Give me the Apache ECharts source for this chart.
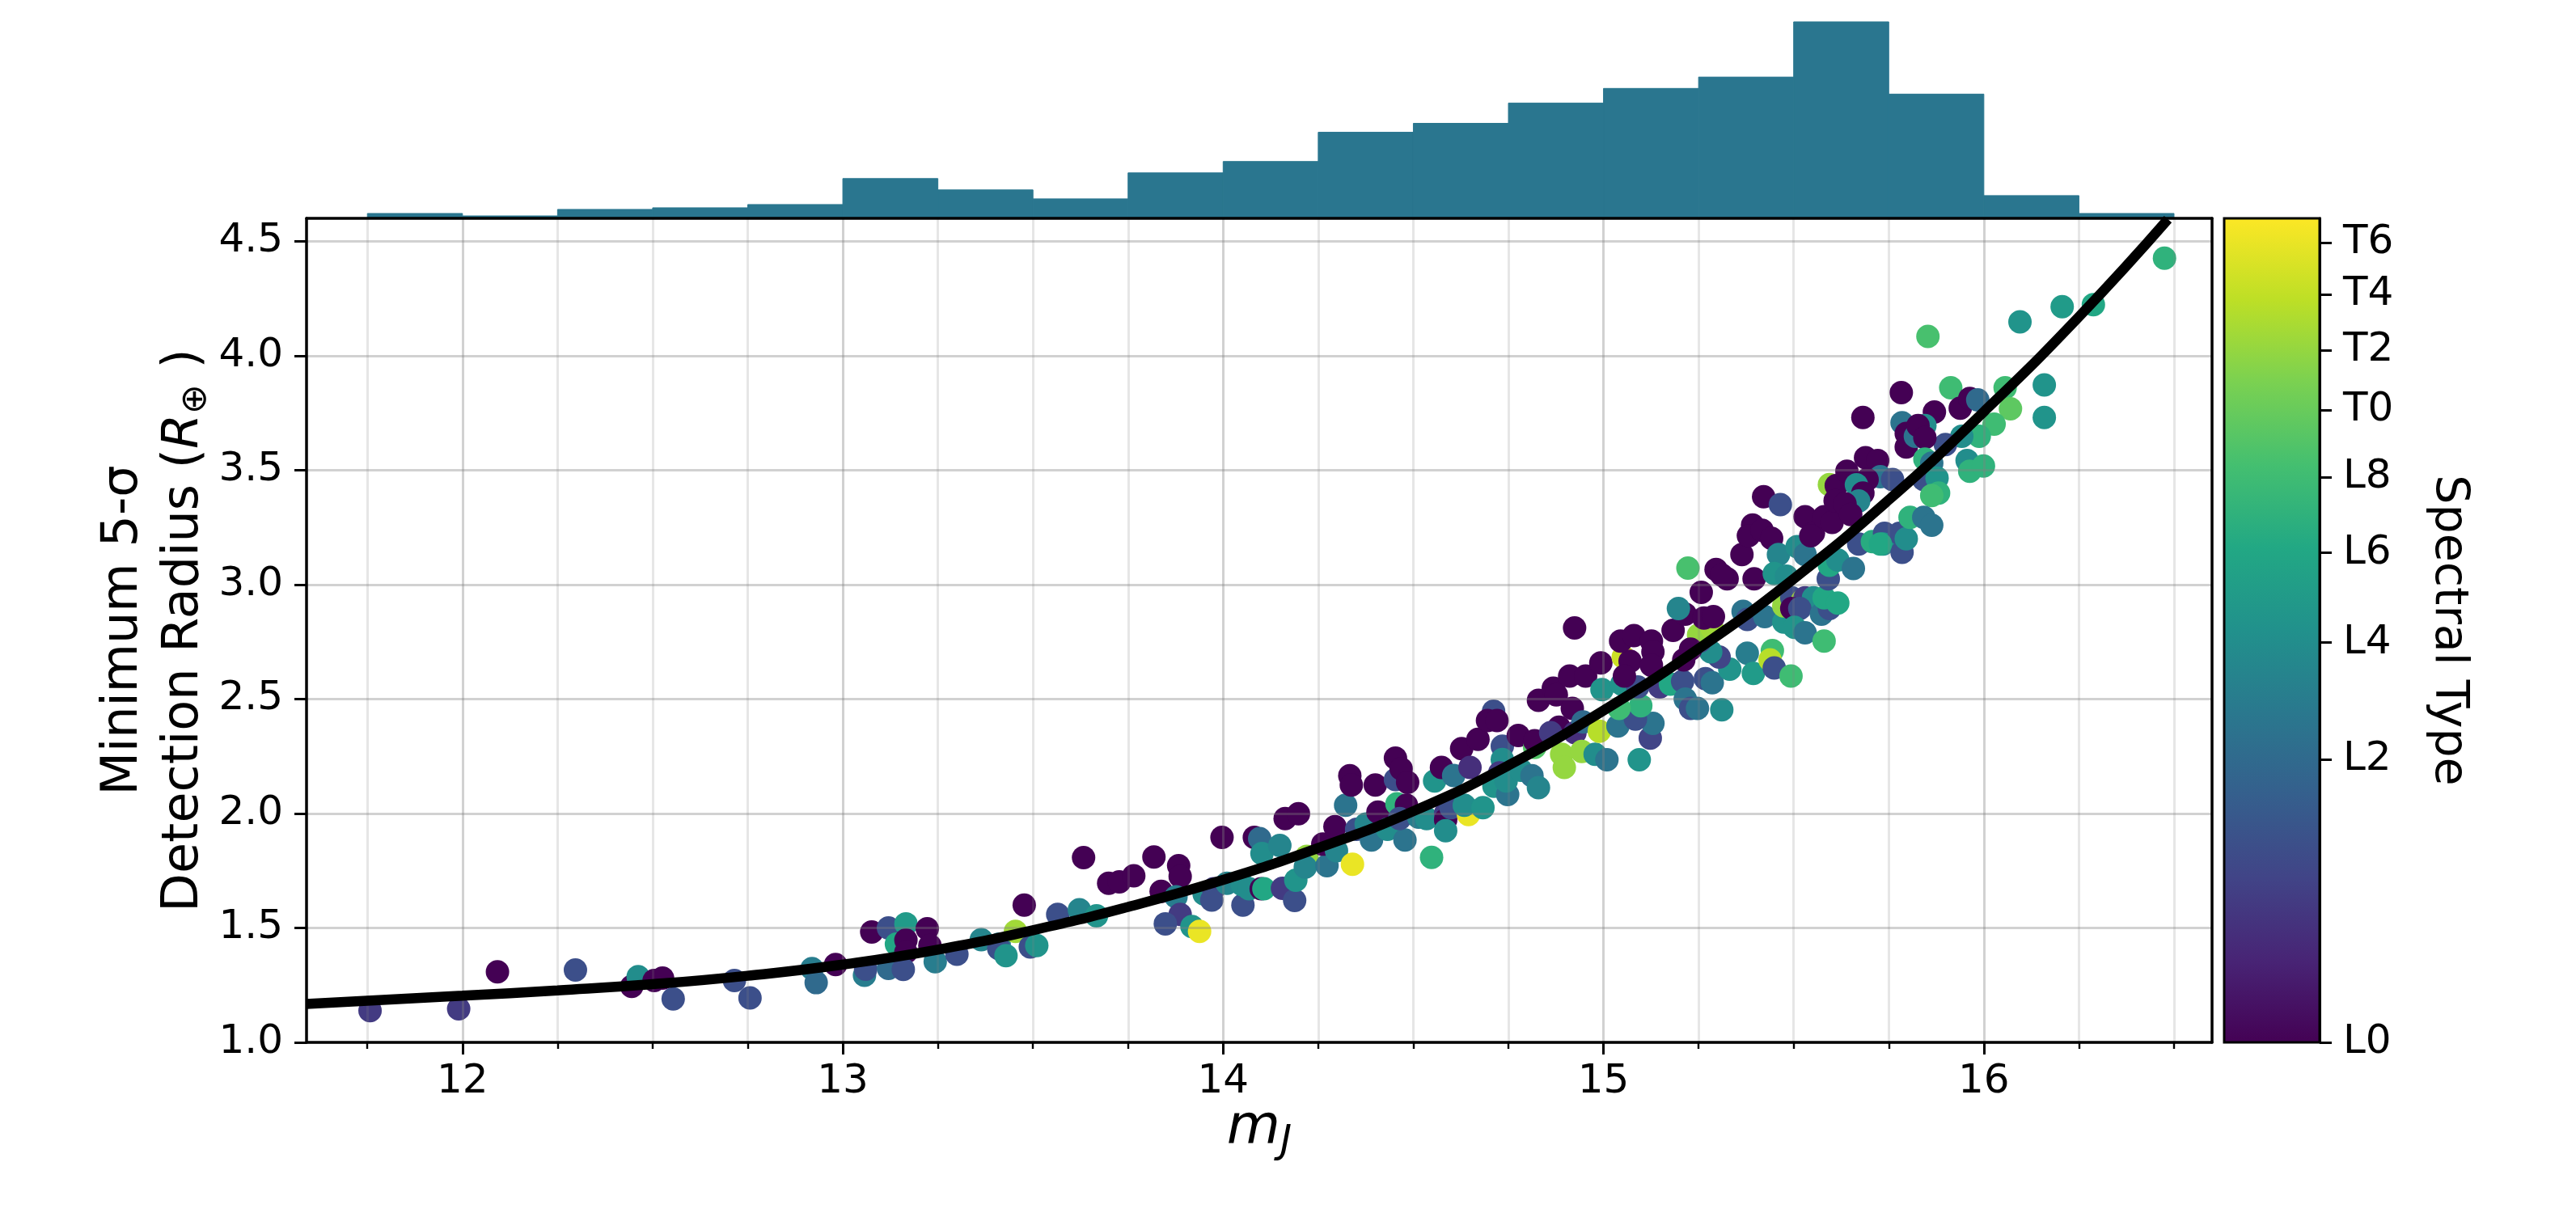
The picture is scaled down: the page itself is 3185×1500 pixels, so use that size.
<!DOCTYPE html>
<html>
<head>
<meta charset="utf-8">
<script src="https://cdn.jsdelivr.net/npm/echarts@6/dist/echarts.min.js"></script>
<style>
  html, body { margin: 0; padding: 0; background: #fff; }
  #chart { width: 3185px; height: 1500px; }
</style>
</head>
<body>
<div id="chart"></div>
<script>
// histogram of m_J (bin edges and bar heights)
var histEdges = [11.75, 12.0, 12.25, 12.5, 12.75, 13.0, 13.25, 13.5, 13.75, 14.0,
                 14.25, 14.5, 14.75, 15.0, 15.25, 15.5, 15.75, 16.0, 16.25, 16.5];
var histHeights = [6, 3, 11, 13, 17, 49, 35, 24, 56, 70, 106, 117, 142, 160, 174, 242, 153, 28, 6];

// fitted curve
var curveMJ = [11.59, 12.0, 12.25, 12.5, 12.75, 13.0, 13.25, 13.5, 13.75, 14.0, 14.25, 14.5,
               14.75, 15.0, 15.25, 15.5, 15.75, 16.0, 16.25, 16.484];
var curveR  = [1.168, 1.204, 1.227, 1.254, 1.291, 1.34, 1.405, 1.49, 1.592, 1.71, 1.849, 2.01,
               2.21, 2.45, 2.72, 3.025, 3.37, 3.755, 4.17, 4.596];

// axis ticks
var xTicks = [12, 13, 14, 15, 16];
var xMinorTicks = [11.75, 12.25, 12.5, 12.75, 13.25, 13.5, 13.75, 14.25, 14.5, 14.75,
                   15.25, 15.5, 15.75, 16.25, 16.5];
var yTicks = [1.0, 1.5, 2.0, 2.5, 3.0, 3.5, 4.0, 4.5];

// spectral type: 0 = L0 ... 10 = T0 ... 16 = T6, colour norm is sqrt over [0, 17]
var sptTicks = [0, 2, 4, 6, 8, 10, 12, 14, 16];
var sptLabels = ['L0', 'L2', 'L4', 'L6', 'L8', 'T0', 'T2', 'T4', 'T6'];
var sptMax = 17;

var viridis = ['#440154', '#482475', '#414487', '#355f8d', '#2a788e', '#21918c',
               '#22a884', '#44bf70', '#7ad151', '#bddf26', '#fde725'];

// [m_J, radius, spectral type]
var points = [
  [11.757,1.139,0.5],[11.99,1.147,0.5],[12.092,1.308,0],[12.297,1.316,1],[12.445,1.245,0],
  [12.462,1.287,4],[12.504,1.27,0],[12.526,1.281,0],[12.554,1.19,1],[12.715,1.27,1],
  [12.756,1.194,1],[12.919,1.322,3],[12.93,1.261,2],[12.981,1.34,0],[13.057,1.293,3],
  [13.076,1.482,0],[13.06,1.32,1],
  [13.12,1.5,1],[13.166,1.518,5],[13.222,1.496,0],[13.141,1.429,6],[13.166,1.447,0],
  [13.166,1.394,0],[13.229,1.423,0],[13.12,1.323,2],[13.159,1.319,1],[13.243,1.352,3],
  [13.3,1.385,1],[13.364,1.449,3.5],[13.411,1.429,3],[13.41,1.41,1],[13.429,1.379,4.5],
  [13.454,1.485,12.5],[13.477,1.6,0],[13.493,1.417,1],[13.51,1.423,4.5],[13.565,1.559,1],
  [13.622,1.579,3.5],[13.667,1.553,4.5],[13.633,1.807,0],[13.699,1.695,0],[13.727,1.701,0],
  [13.765,1.728,0],[13.818,1.81,0],[13.883,1.772,0],[13.887,1.725,0],[13.837,1.66,0],
  [13.876,1.636,3],[13.887,1.559,0.5],[13.848,1.518,1],[13.918,1.506,4.5],[13.938,1.485,16],
  [13.95,1.648,4],[13.975,1.671,0.5],[13.97,1.622,1],[13.997,1.896,0],[14.01,1.695,3.5],
  [14.052,1.6,1],[14.05,1.689,4],[14.068,1.671,4],[14.082,1.896,0],[14.096,1.89,2],
  [14.1,1.671,0],[14.107,1.671,6],
  [14.102,1.825,4],[14.149,1.86,3.5],[14.156,1.673,0.5],[14.188,1.62,1],[14.191,1.708,4.5],
  [14.163,1.978,0],[14.198,1.999,0],[14.22,1.813,12],[14.216,1.766,3.5],[14.273,1.772,2.5],
  [14.262,1.866,0],[14.294,1.942,0],[14.298,1.837,3.5],[14.34,1.778,16],[14.322,2.036,2.5],
  [14.333,2.165,0],[14.337,2.124,0],[14.351,1.931,1],[14.39,1.884,2.5],[14.376,1.954,3.5],
  [14.4,2.124,0],[14.407,2.006,0],[14.432,1.931,4],[14.457,2.042,7],[14.453,2.148,1],
  [14.453,2.242,0],[14.468,2.195,0],[14.485,2.136,0],[14.482,2.036,0],[14.478,1.884,2.5],
  [14.464,1.978,1],[14.514,1.984,3],[14.535,1.978,4],[14.548,1.808,7],[14.556,2.142,4.5],
  [14.574,2.201,0],[14.585,2.001,0.5],[14.585,1.972,0],[14.585,1.925,4],[14.599,2.025,1],
  [14.627,2.283,0],[14.606,2.166,2.5],[14.649,2.201,0.3],[14.645,1.995,16],[14.634,2.036,4],
  [14.67,2.324,0],[14.683,2.025,4.5],[14.711,2.447,1],[14.695,2.406,0],[14.72,2.406,0],
  [14.734,2.294,1],[14.734,2.236,4],[14.727,2.177,0.5],[14.712,2.119,4.5],[14.748,2.083,2.5],
  [14.744,2.142,4],[14.776,2.341,0],[14.819,2.289,9],[14.819,2.318,0],[14.783,2.189,4],
  [14.812,2.165,2.5],[14.829,2.113,3.5],[14.829,2.494,0],[14.868,2.547,0],[14.876,2.518,0],
  [14.911,2.6,0],[14.953,2.6,0],[14.924,2.811,0],[14.918,2.459,0],[14.883,2.377,0],
  [14.861,2.353,0.5],[14.925,2.353,0.3],[14.946,2.4,2],[14.89,2.259,12],[14.897,2.201,12],
  [14.943,2.271,12],[14.978,2.259,4],[14.989,2.359,13.5],[14.996,2.541,4.5],[14.993,2.658,0],
  [15.038,2.382,2.5],[15.009,2.235,2.5],[15.094,2.235,4.5],[15.123,2.329,0.7],[15.13,2.394,2.5],
  [15.084,2.412,1],[15.098,2.471,7],[15.041,2.459,8],[15.048,2.565,4.5],[15.09,2.553,1],
  [15.148,2.553,0.5],[15.176,2.565,6],[15.208,2.577,1],[15.215,2.5,2.5],[15.229,2.459,1],
  [15.247,2.459,2.5],[15.311,2.453,4],[15.268,2.589,1],[15.286,2.571,2.5],[15.332,2.63,4.5],
  [15.304,2.683,0.7],[15.282,2.706,4],[15.254,2.753,1],[15.25,2.78,12],[15.286,2.807,12.5],
  [15.378,2.7,3],[15.394,2.612,5],[15.444,2.712,8],[15.438,2.671,13.5],[15.449,2.636,1],
  [15.493,2.6,8],[15.052,2.683,14.5],[15.07,2.665,0],[15.045,2.753,0],[15.08,2.777,0],
  [15.126,2.753,0],[15.13,2.706,0],[15.126,2.647,0],[15.055,2.6,0],[15.183,2.8,0],
  [15.215,2.871,0],[15.211,2.671,0],[15.229,2.718,0],[15.257,2.966,0],[15.197,2.895,3.5],
  [15.264,2.854,0],[15.289,2.86,0],[15.222,3.072,8.5],[15.296,3.066,0],[15.325,3.025,0],
  [15.311,3.042,0],[15.364,3.131,0],[15.396,3.025,0],[15.392,3.26,0],[15.381,3.213,0],
  [15.417,3.237,0],[15.442,3.202,0],[15.421,3.384,0],[15.465,3.349,1],[15.46,3.131,3.5],
  [15.449,3.048,4.5],[15.367,2.883,2.5],[15.378,2.848,1],[15.424,2.86,2.5],[15.474,2.836,4.5],
  [15.474,2.907,12],[15.481,3.037,4],[15.509,3.166,4],[15.53,3.131,2.5],[15.53,3.296,0],
  [15.552,3.225,0],[15.58,3.296,0],[15.601,3.272,0],[15.545,3.213,0],[15.594,3.437,12],
  [15.612,3.432,0],[15.609,3.366,0],[15.495,2.942,1],[15.523,2.93,12.5],[15.53,2.942,0.5],
  [15.552,2.942,4],[15.495,2.895,0],[15.516,2.895,1],[15.502,2.813,4.5],[15.53,2.789,2.5],
  [15.58,2.753,8],[15.573,2.871,2.5],[15.594,2.895,1],[15.58,2.942,6],[15.591,3.025,1],
  [15.594,3.084,6],[15.616,3.107,4],[15.616,2.919,6],
  [15.853,4.084,8.5],[16.095,4.148,4.5],[15.783,3.839,0],[15.682,3.73,0],[15.913,3.86,8],
  [16.056,3.86,8],[16.07,3.768,9.5],[16.159,3.872,4.5],[16.159,3.73,4.5],[15.87,3.754,0],
  [15.938,3.771,0],[15.963,3.813,0],[15.984,3.807,2],[16.027,3.701,8],[15.988,3.648,7],
  [15.942,3.648,4],[15.899,3.612,1],[15.785,3.707,2.5],[15.796,3.66,0],[15.796,3.601,0],
  [15.82,3.648,2.5],[15.845,3.695,4],[15.827,3.695,0],[15.845,3.642,0],[15.689,3.554,0],
  [15.721,3.542,0],[15.64,3.495,0],[15.728,3.471,2.5],[15.76,3.459,1],[15.693,3.459,0],
  [15.665,3.436,4],[15.682,3.4,0],[15.671,3.365,3.5],[15.845,3.548,7],[15.863,3.53,2.5],
  [15.842,3.459,1],[15.877,3.465,4.5],[15.881,3.4,7],[15.863,3.389,8],[15.956,3.542,4],
  [15.963,3.495,7],[15.999,3.518,7],[15.635,3.353,0],[15.65,3.306,0],[15.657,3.07,2.5],
  [15.671,3.177,1],[15.707,3.188,6.5],[15.739,3.224,1],[15.735,3.177,4],[15.778,3.224,1],
  [15.785,3.141,1],[15.796,3.2,4],[15.806,3.294,7],[15.842,3.294,2.5],[15.863,3.259,2.5],
  [15.728,3.177,6],
  [16.475,4.426,7],[16.206,4.214,5],[16.288,4.223,6]
];

var FONT = 'DejaVu Sans';
var HIST_COLOR = '#2a768f';
var xMin = 11.59, xMax = 16.6, yMin = 1.0, yMax = 4.6;

function sptNorm(s) { return Math.sqrt(s / sptMax); }

var scatterData = points.map(function (p) { return [p[0], p[1], sptNorm(p[2])]; });
var curveData = curveMJ.map(function (x, i) { return [x, curveR[i]]; });
var histData = histHeights.map(function (h, i) { return [histEdges[i], histEdges[i + 1], h]; });
var cbarTickT = sptTicks.map(sptNorm);

var chart = echarts.init(document.getElementById('chart'));

var option = {
  animation: false,
  backgroundColor: '#fff',
  grid: [
    { left: 379, right: 450, top: 270, bottom: 211 },
    { left: 379, right: 450, top: 27, bottom: 1230 },
    { left: 2750, right: 317, top: 270, bottom: 211 }
  ],
  xAxis: [
    {
      gridIndex: 0, type: 'value', min: xMin, max: xMax, position: 'bottom', z: 3,
      name: '{it|m}{sub|J}', nameLocation: 'middle', nameGap: 66, nameMoveOverlap: false,
      nameTextStyle: {
        fontFamily: FONT, fontSize: 68, color: '#000',
        rich: {
          it: { fontFamily: FONT, fontSize: 68, fontStyle: 'italic', color: '#000', lineHeight: 82 },
          sub: { fontFamily: FONT, fontSize: 48, fontStyle: 'italic', color: '#000', verticalAlign: 'bottom', lineHeight: 82 }
        }
      },
      axisLine: { show: true, onZero: false, lineStyle: { color: '#000', width: 3.5 } },
      axisTick: { show: true, customValues: xTicks, length: 15, lineStyle: { color: '#000', width: 3 } },
      axisLabel: { show: true, customValues: xTicks, margin: 24, formatter: function (v) { return String(v); }, fontFamily: FONT, fontSize: 50, color: '#000' },
      splitLine: { show: true, lineStyle: { color: 'rgba(128,128,128,0.36)', width: 3 } }
    },
    {
      gridIndex: 0, type: 'value', min: xMin, max: xMax, position: 'bottom', z: 3,
      axisLine: { show: false },
      axisTick: { show: true, customValues: xMinorTicks, length: 8, lineStyle: { color: '#000', width: 2.4 } },
      axisLabel: { show: false, customValues: xMinorTicks },
      splitLine: { show: true, lineStyle: { color: 'rgba(128,128,128,0.2)', width: 3 } }
    },
    {
      gridIndex: 0, type: 'value', min: xMin, max: xMax, position: 'top', z: 4,
      axisLine: { show: true, onZero: false, lineStyle: { color: '#000', width: 3.5 } },
      axisTick: { show: false }, axisLabel: { show: false }, splitLine: { show: false }
    },
    {
      gridIndex: 1, type: 'value', min: xMin, max: xMax, show: false
    },
    {
      gridIndex: 2, type: 'value', min: 0, max: 1, show: false
    }
  ],
  yAxis: [
    {
      gridIndex: 0, type: 'value', min: yMin, max: yMax, position: 'left', z: 3,
      name: 'Minimum 5-σ\nDetection Radius ({it|R}{sub|⊕} )',
      nameLocation: 'middle', nameRotate: 90, nameGap: 114, nameMoveOverlap: false,
      nameTextStyle: {
        fontFamily: FONT, fontSize: 62, color: '#000', lineHeight: 75,
        rich: {
          it: { fontFamily: FONT, fontSize: 62, fontStyle: 'italic', color: '#000', lineHeight: 75 },
          sub: { fontFamily: FONT, fontSize: 44, color: '#000', verticalAlign: 'bottom', lineHeight: 75 }
        }
      },
      axisLine: { show: true, onZero: false, lineStyle: { color: '#000', width: 3.5 } },
      axisTick: { show: true, customValues: yTicks, length: 15, lineStyle: { color: '#000', width: 3 } },
      axisLabel: { show: true, customValues: yTicks, margin: 29, formatter: function (v) { return v.toFixed(1); }, fontFamily: FONT, fontSize: 50, color: '#000' },
      splitLine: { show: true, lineStyle: { color: 'rgba(128,128,128,0.36)', width: 3 } }
    },
    {
      gridIndex: 0, type: 'value', min: yMin, max: yMax, position: 'right', z: 4,
      axisLine: { show: true, onZero: false, lineStyle: { color: '#000', width: 3.5 } },
      axisTick: { show: false }, axisLabel: { show: false }, splitLine: { show: false }
    },
    {
      gridIndex: 1, type: 'value', min: 0, max: 242, show: false
    },
    {
      gridIndex: 2, type: 'value', min: 0, max: 1, position: 'right', z: 3,
      name: 'Spectral Type', nameLocation: 'middle', nameRotate: -90, nameGap: 130, nameMoveOverlap: false,
      nameTextStyle: { fontFamily: FONT, fontSize: 57, color: '#000' },
      axisLine: { show: true, onZero: false, lineStyle: { color: '#000', width: 3 } },
      axisTick: { show: true, customValues: cbarTickT, length: 15, lineStyle: { color: '#000', width: 3 } },
      axisLabel: {
        show: true, customValues: cbarTickT, margin: 29, fontFamily: FONT, fontSize: 50, color: '#000',
        formatter: function (v) {
          for (var i = 0; i < cbarTickT.length; i++) {
            if (Math.abs(cbarTickT[i] - v) < 1e-6) return sptLabels[i];
          }
          return '';
        }
      },
      splitLine: { show: false }
    }
  ],
  visualMap: {
    type: 'continuous', show: false, seriesIndex: 0, dimension: 2,
    min: 0, max: 1, inRange: { color: viridis }
  },
  series: [
    {
      type: 'scatter', xAxisIndex: 0, yAxisIndex: 0, z: 2,
      symbol: 'circle', symbolSize: 29,
      itemStyle: { opacity: 1, borderWidth: 0 },
      data: scatterData
    },
    {
      type: 'line', xAxisIndex: 0, yAxisIndex: 0, z: 5,
      smooth: true, showSymbol: false, symbol: 'none',
      lineStyle: { color: '#000', width: 12.5 },
      data: curveData
    },
    {
      type: 'custom', xAxisIndex: 3, yAxisIndex: 2,
      renderItem: function (params, api) {
        var p0 = api.coord([api.value(0), api.value(2)]);
        var p1 = api.coord([api.value(1), 0]);
        return {
          type: 'rect',
          shape: { x: p0[0], y: p0[1], width: p1[0] - p0[0], height: p1[1] - p0[1] },
          style: { fill: HIST_COLOR, stroke: HIST_COLOR, lineWidth: 1 }
        };
      },
      encode: { x: [0, 1], y: 2 },
      data: histData
    },
    {
      type: 'custom', xAxisIndex: 4, yAxisIndex: 3,
      renderItem: function (params, api) {
        var p0 = api.coord([0, 1]);
        var p1 = api.coord([1, 0]);
        var stops = viridis.map(function (c, i) { return { offset: i / (viridis.length - 1), color: c }; });
        return {
          type: 'rect',
          shape: { x: p0[0], y: p0[1], width: p1[0] - p0[0], height: p1[1] - p0[1] },
          style: { fill: new echarts.graphic.LinearGradient(0, 1, 0, 0, stops), stroke: '#000', lineWidth: 3 }
        };
      },
      encode: { x: 0, y: 1 },
      data: [[0, 0]]
    }
  ]
};

chart.setOption(option);
</script>
</body>
</html>
